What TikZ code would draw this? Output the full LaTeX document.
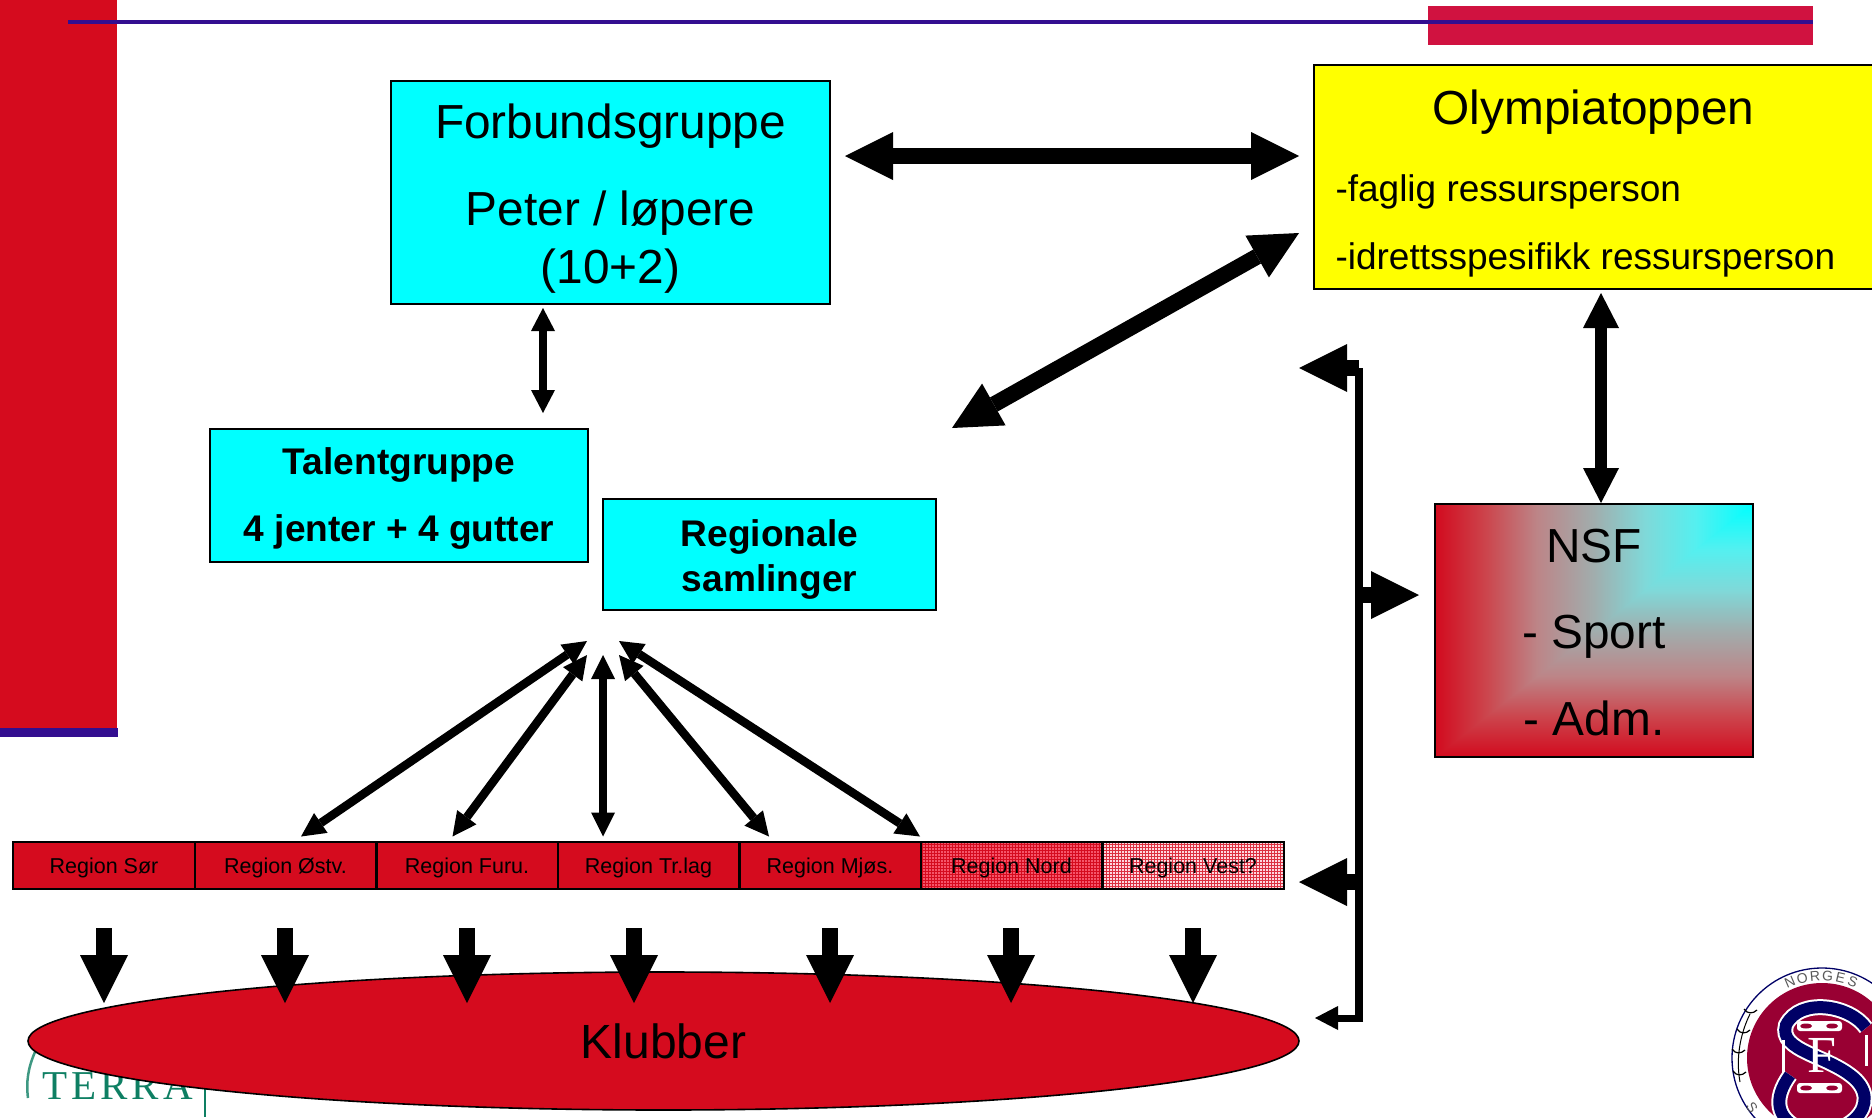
\documentclass[tikz,border=0pt]{standalone}
\usepackage{fontspec}
\setmainfont{Liberation Sans}
\newfontfamily\terrafont[LetterSpace=10]{Liberation Serif}
\newfontfamily\logofont{Liberation Serif}
\usetikzlibrary{arrows.meta,shapes.geometric,calc}
\definecolor{cred}{RGB}{213,11,30}
\definecolor{crim}{HTML}{D01240}
\definecolor{pblue}{HTML}{330E90}
\definecolor{tgreen}{HTML}{0E7F63}
\definecolor{snavy}{HTML}{000066}
\definecolor{sred}{HTML}{990033}
\definecolor{boxcyan}{RGB}{0,255,255}
\definecolor{boxyellow}{RGB}{255,255,0}
\definecolor{nordbase}{RGB}{245,85,105}
\definecolor{vestbase}{RGB}{254,215,222}
\pgfdeclarehorizontalshading{nsfgrad}{100bp}{
 rgb(0bp)=(0.824,0.04,0.118);rgb(25bp)=(0.824,0.04,0.118);
 rgb(33bp)=(0.80,0.27,0.30);rgb(41bp)=(0.74,0.52,0.53);rgb(50bp)=(0.63,0.68,0.68);
 rgb(58bp)=(0.50,0.85,0.85);rgb(66bp)=(0.33,0.94,0.94);rgb(75bp)=(0,1,1);rgb(100bp)=(0,1,1)}
\newcommand\fs[2]{\fontsize{#1}{#2}\selectfont}
\tikzset{
 x=1pt,y=-1pt,
 boxed/.style={draw=black,line width=1.8pt,inner sep=0pt,outer sep=0pt,align=center},
 regionbox/.style={draw=black,line width=2.4pt,inner sep=0pt,outer sep=0pt,minimum width=181.6pt,minimum height=47pt,text height=20.3pt,text depth=4.5pt,font=\fs{21.5}{24}},
 bigarrow/.style={line width=16pt,draw=black},
 midarrow/.style={line width=12pt,draw=black},
 fanarrow/.style={line width=8.5pt,draw=black},
 downarrow/.style={line width=16pt,draw=black,-{Triangle[length=48pt,width=48pt,line width=0pt]}},
}
\begin{document}
\begin{tikzpicture}
\useasboundingbox (0,0) rectangle (1872,1117);
\clip (0,0) rectangle (1872,1117);
% slide decoration
\fill[cred] (0,0) rectangle (117,728);
\fill[pblue] (0,728) rectangle (118,737);
\fill[crim] (1428,6) rectangle (1813,45);
\fill[pblue] (68,20) rectangle (1813,24);

% TERRA logo
\node[anchor=base west,inner sep=0pt,text=tgreen,font=\terrafont\fs{41}{41}] (terra) at (42,1099) {TERRA};
\draw[tgreen!80,line width=2.5pt] (35,1052) .. controls (28,1068) and (26,1082) .. (28,1098);
\coordinate (terraA) at (205,1085);
\coordinate (terraB) at (205,1117);
\draw[tgreen,line width=2pt] (terraA) -- (terraB);

% NSF emblem
\coordinate (sc) at (1822,1058);
\draw[snavy,line width=1.3pt,fill=white] (sc) circle[radius=90];
\fill[sred] (sc) circle[radius=75];
\foreach \c/\a in {N/113,O/104,R/95,G/86,E/77,S/68}{
  \node[text=black!65,font=\fs{14}{14},inner sep=0pt,rotate=\a-90] (em\c) at ({1822+82*cos(\a)},{1058-82*sin(\a)}) {\c};
}
\node[text=black!65,font=\fs{14}{14},inner sep=0pt,rotate=-55] (emS2) at (1752,1108) {S};
\foreach \px/\py in {1750/1014,1743/1034,1738/1054,1739/1076}{
  \draw[black,line width=1.2pt] (\px-6,\py-5) .. controls (\px-3,\py) and (\px+3,\py) .. (\px+7,\py-4);
}
\draw[black,line width=1pt] (1750,1014) .. controls (1742,1030) and (1735,1055) .. (1740,1082);
\draw[white,line width=16pt] (1866,1028) .. controls (1850,1005) and (1800,997) .. (1786,1025) .. controls (1778,1052) and (1830,1055) .. (1856,1080) .. controls (1885,1110) and (1835,1145) .. (1798,1128) .. controls (1778,1118) and (1772,1100) .. (1790,1075);
\draw[snavy,line width=12pt] (1866,1028) .. controls (1850,1005) and (1800,997) .. (1786,1025) .. controls (1778,1052) and (1830,1055) .. (1856,1080) .. controls (1885,1110) and (1835,1145) .. (1798,1128) .. controls (1778,1118) and (1772,1100) .. (1790,1075);
\draw[white,line width=3pt] (1783,1040) -- (1783,1072);
\draw[white,line width=3pt] (1866,1035) -- (1866,1066);
\foreach \yy in {1026,1088}{
  \fill[white,rounded corners=3pt] (1797,\yy-5) rectangle (1842,\yy+5);
  \fill[sred] (1806,\yy) ellipse[x radius=6,y radius=2.5];
  \fill[sred] (1832,\yy) ellipse[x radius=6,y radius=2.5];
}
\node[text=white,inner sep=0pt,font=\logofont\fs{52}{52}] (emF) at (1822,1055) {F};

% boxes
\node[boxed,fill=boxcyan,minimum width=439pt,minimum height=223pt,font=\fs{47.8}{58.5}] (fg) at (610.5,192.5)
  {\rule{0pt}{47pt}Forbundsgruppe\\[28.5pt]Peter / løpere\\(10+2)};
\node[boxed,fill=boxyellow,anchor=north west,minimum width=559pt,minimum height=224pt,font=\fs{37}{44}] (ol) at (1314,65)
  {\begin{tabular}{@{}l@{}}\rule{0pt}{52.7pt}\makebox[516pt][c]{\fs{47.8}{50}Olympiatoppen}\\[33.3pt]-faglig ressursperson\\[24pt]-idrettsspesifikk ressursperson\end{tabular}};
\node[boxed,fill=boxcyan,minimum width=378pt,minimum height=133pt,font=\bfseries\fs{37.1}{67}] (tg) at (399,495.5)
  {\rule{0pt}{32.5pt}Talentgruppe\\4 jenter + 4 gutter};
\node[boxed,fill=boxcyan,minimum width=333pt,minimum height=111pt,font=\bfseries\fs{37.1}{44.6}] (rs) at (769.5,554.5)
  {\rule{0pt}{37pt}Regionale\\samlinger};
\shade[shading=nsfgrad] (1435,504) -- (1753,504) -- (1753,506) -- (1437,757) -- (1435,757) -- cycle;
\shade[shading=nsfgrad,shading angle=90] (1753,504) -- (1753,757) -- (1435,757) -- cycle;
\node[boxed,minimum width=318pt,minimum height=253pt,font=\fs{47.8}{86.5}] (nsf) at (1594,630.5)
  {\rule{0pt}{37pt}NSF\\- Sport\\- Adm.};

% regions
\fill[cred] (13,842) rectangle (921,889);
\fill[nordbase] (921,842) rectangle (1102,889);
\fill[vestbase] (1102,842) rectangle (1284,889);
\foreach \v in {922.5,925.5,...,1101}{\draw[cred,line width=1pt] (\v,842) -- (\v,889);}
\foreach \v in {844.5,847.5,...,888}{\draw[cred,line width=1pt] (921,\v) -- (1102,\v);}
\foreach \v in {1103.5,1106.5,...,1283}{\draw[cred!85,line width=.6pt] (\v,842) -- (\v,889);}
\foreach \v in {844.5,847.5,...,888}{\draw[cred!85,line width=.6pt] (1102,\v) -- (1284,\v);}
\foreach \i/\t/\cx in {1/Region Sør/104,2/Region Østv./285.5,3/Region Furu./467,4/Region Tr.lag/648.5,5/Region Mjøs./830,6/Region Nord/1011.5,7/Region Vest?/1193}{
  \node[regionbox] (r\i) at (\cx,865.5) {\t};
}

% Klubber
\node[draw=black,line width=1.6pt,fill=cred,ellipse,inner sep=0pt,minimum width=1271pt,minimum height=138pt,font=\fs{48}{50}] (kl) at (663.5,1041) {Klubber};

% down arrows
\foreach \i/\cx in {1/104,2/285,3/467,4/634,5/830,6/1011,7/1193}{
  \coordinate (ds\i) at (\cx,928);
  \coordinate (de\i) at (\cx,1003);
  \draw[downarrow] (ds\i) -- (de\i);
}

% main connectors
\coordinate (a1) at (845,156);
\coordinate (a2) at (1299,156);
\draw[bigarrow,{Triangle[length=48pt,width=48pt,line width=0pt]}-{Triangle[length=48pt,width=48pt,line width=0pt]}] (a1) -- (a2);
\coordinate (b1) at (952,428);
\coordinate (b2) at (1299,233);
\draw[bigarrow,{Triangle[length=48pt,width=48pt,line width=0pt]}-{Triangle[length=48pt,width=48pt,line width=0pt]}] (b1) -- (b2);
\coordinate (c1) at (1601,293);
\coordinate (c2) at (1601,503);
\draw[midarrow,{Triangle[length=35pt,width=36pt,line width=0pt]}-{Triangle[length=35pt,width=36pt,line width=0pt]}] (c1) -- (c2);
\coordinate (d1) at (543,308);
\coordinate (d2) at (543,413);
\draw[fanarrow,{Triangle[length=23pt,width=24pt,line width=0pt]}-{Triangle[length=23pt,width=24pt,line width=0pt]}] (d1) -- (d2);

% bracket
\coordinate (br1) at (1359,368);
\coordinate (br2) at (1359,1022);
\draw[line width=8pt,draw=black] (br1) -- (br2);
\coordinate (e0) at (1359,368);
\coordinate (e1) at (1299,368);
\draw[bigarrow,-{Triangle[length=48pt,width=48pt,line width=0pt]}] (e0) -- (e1);
\coordinate (f0) at (1359,595);
\coordinate (f1) at (1419,595);
\draw[bigarrow,-{Triangle[length=48pt,width=48pt,line width=0pt]}] (f0) -- (f1);
\coordinate (g0) at (1359,882);
\coordinate (g1) at (1299,882);
\draw[bigarrow,-{Triangle[length=48pt,width=48pt,line width=0pt]}] (g0) -- (g1);
\coordinate (h0) at (1363,1018);
\coordinate (h1) at (1315,1018);
\draw[line width=7pt,draw=black,-{Triangle[length=23pt,width=24pt,line width=0pt]}] (h0) -- (h1);

% fan arrows
\coordinate (fa1t) at (587,641);   \coordinate (fa1b) at (301,836.5);
\coordinate (fa2t) at (587,655);   \coordinate (fa2b) at (452.5,836.5);
\coordinate (fa3t) at (603,655);   \coordinate (fa3b) at (603,836.5);
\coordinate (fa4t) at (619,655);   \coordinate (fa4b) at (769,836.5);
\coordinate (fa5t) at (619,641);   \coordinate (fa5b) at (920,836.5);
\foreach \i in {1,2,3,4,5}{
  \draw[fanarrow,{Triangle[length=24pt,width=24pt,line width=0pt]}-{Triangle[length=24pt,width=24pt,line width=0pt]}] (fa\i t) -- (fa\i b);
}
\end{tikzpicture}
\end{document}
